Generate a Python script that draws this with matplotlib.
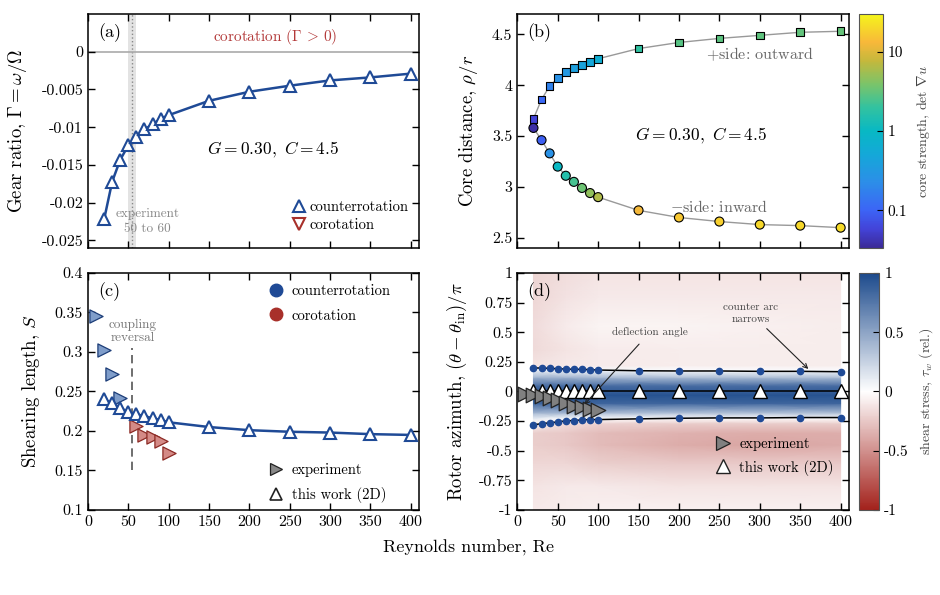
#Four panel figure: gear ratio, core distance, shearing length and rotor azimuth vs Reynolds number

import numpy as np
import matplotlib.pyplot as plt
from matplotlib.colors import LinearSegmentedColormap, LogNorm, Normalize
from matplotlib.lines import Line2D
from matplotlib.ticker import FuncFormatter

plt.rcParams['font.family'] = 'serif'
plt.rcParams['font.serif'] = ['cmr10', 'DejaVu Serif']
plt.rcParams['mathtext.fontset'] = 'cm'
plt.rcParams['axes.unicode_minus'] = False
plt.rcParams['axes.formatter.use_mathtext'] = True

# Data
re = [20, 30, 40, 50, 60, 70, 80, 90, 100, 150, 200, 250, 300, 350, 400]

# (a) gear ratio
gear = [-0.0222, -0.0172, -0.0143, -0.0124, -0.0113, -0.0103, -0.0096, -0.0089, -0.0084,
        -0.0065, -0.0053, -0.0045, -0.0038, -0.0034, -0.0029]

# (b) core distance and core strength
core_plus = [3.67, 3.86, 3.99, 4.07, 4.13, 4.17, 4.20, 4.23, 4.26, 4.36, 4.42, 4.46, 4.49, 4.52, 4.53]
core_minus = [3.58, 3.46, 3.33, 3.20, 3.11, 3.05, 2.99, 2.94, 2.90, 2.77, 2.70, 2.66, 2.63, 2.62, 2.60]
strength_plus = [0.057, 0.11, 0.18, 0.25, 0.31, 0.38, 0.42, 0.5, 0.62, 1.9, 2.8, 2.9, 3.0, 3.1, 3.2]
strength_minus = [0.038, 0.093, 0.25, 1.0, 1.6, 2.4, 3.4, 4.7, 6.4, 12.5, 16, 18, 20, 20, 21]

# (c) shearing length
shear = [0.240, 0.235, 0.229, 0.224, 0.221, 0.219, 0.216, 0.214, 0.211,
         0.205, 0.201, 0.199, 0.198, 0.196, 0.195]
exp_re_counter = [10, 20, 30, 40]
exp_shear_counter = [0.345, 0.302, 0.272, 0.242]
exp_re_co = [60, 70, 80, 90, 100]
exp_shear_co = [0.206, 0.195, 0.193, 0.187, 0.172]

# (d) rotor azimuth
arc_upper = [0.198, 0.198, 0.195, 0.192, 0.189, 0.187, 0.187, 0.184, 0.181,
             0.175, 0.173, 0.173, 0.170, 0.170, 0.167]
arc_lower = [-0.282, -0.271, -0.265, -0.257, -0.248, -0.245, -0.240, -0.237, -0.237,
             -0.231, -0.226, -0.223, -0.223, -0.220, -0.220]
azimuth_2d = [0, 0, 0, 0, 0, 0, 0, 0, 0, 0, 0, 0, 0, 0, 0]
exp_re = [10, 20, 30, 40, 50, 60, 70, 80, 90, 100]
exp_azimuth = [-0.02, -0.03, -0.04, -0.055, -0.07, -0.10, -0.119, -0.133, -0.147, -0.153]

# shear stress field behind panel (d), coarse grid
field_re = [20, 60, 100, 200, 300, 400]
field_theta = [-1.0, -0.8, -0.6, -0.45, -0.35, -0.27, -0.23, -0.18, -0.10, -0.03,
               0.05, 0.12, 0.18, 0.22, 0.35, 0.55, 0.8, 1.0]
field_tau = [
    [-0.10, -0.08, -0.07, -0.07, -0.07, -0.07],
    [-0.12, -0.10, -0.10, -0.12, -0.12, -0.12],
    [-0.18, -0.18, -0.22, -0.25, -0.25, -0.25],
    [-0.22, -0.25, -0.30, -0.37, -0.40, -0.38],
    [-0.22, -0.25, -0.30, -0.35, -0.37, -0.36],
    [-0.05, -0.15, -0.20, -0.22, -0.22, -0.22],
    [0.10, 0.02, 0.00, -0.02, -0.02, -0.02],
    [0.40, 0.40, 0.38, 0.35, 0.35, 0.35],
    [0.85, 0.85, 0.85, 0.85, 0.85, 0.85],
    [0.95, 0.95, 0.95, 0.95, 0.95, 0.95],
    [0.80, 0.80, 0.80, 0.80, 0.80, 0.80],
    [0.40, 0.40, 0.38, 0.35, 0.35, 0.35],
    [0.08, 0.06, 0.04, 0.02, 0.02, 0.02],
    [-0.12, -0.10, -0.09, -0.08, -0.08, -0.08],
    [-0.17, -0.12, -0.09, -0.08, -0.08, -0.08],
    [-0.16, -0.09, -0.05, -0.05, -0.07, -0.08],
    [-0.18, -0.13, -0.10, -0.10, -0.10, -0.10],
    [-0.19, -0.15, -0.12, -0.12, -0.12, -0.12],
]

xticks = [0, 50, 100, 150, 200, 250, 300, 350, 400]

# colours
blue = '#1f4a96'
red = '#a8302a'
parula = LinearSegmentedColormap.from_list('parula', [
    (0.00, '#3b2a98'), (0.08, '#4343d8'), (0.16, '#3c64f6'), (0.28, '#2c8ee8'),
    (0.40, '#14a8d8'), (0.50, '#08b8c4'), (0.60, '#32c2a0'), (0.70, '#7ac46a'),
    (0.80, '#c4b83c'), (0.88, '#f8b83a'), (0.95, '#f6dc28'), (1.00, '#f5f51a')])
shear_cmap = LinearSegmentedColormap.from_list('rwb', ['#a3221c', '#ffffff', '#1c4a8c'])

fmt = FuncFormatter(lambda v, p: '%g' % v)

fig = plt.figure(figsize=(9.4, 5.95), dpi=100)
ax_a = fig.add_axes([0.0936, 0.5832, 0.352, 0.3933])
ax_b = fig.add_axes([0.5503, 0.5832, 0.3526, 0.3933])
cax_b = fig.add_axes([0.9141, 0.5832, 0.0249, 0.3933])
ax_c = fig.add_axes([0.0936, 0.1429, 0.352, 0.3983])
ax_d = fig.add_axes([0.5503, 0.1429, 0.3526, 0.3983])
cax_d = fig.add_axes([0.9141, 0.1429, 0.0213, 0.3983])

for ax in [ax_a, ax_b, ax_c, ax_d]:
    ax.set_xlim(0, 410)
    ax.set_xticks(xticks)
    ax.tick_params(direction='in', top=True, right=True, length=5, width=1, labelsize=11.5)
    ax.yaxis.set_major_formatter(fmt)
    for s in ax.spines.values():
        s.set_linewidth(1.1)
for ax in [ax_a, ax_b]:
    ax.tick_params(labelbottom=False)

# ---- (a) gear ratio ----
ax_a.axvspan(50, 60, color='#e3e3e3', lw=0, zorder=0)
ax_a.axvline(55, color='#888888', ls=':', lw=1, zorder=1)
ax_a.axhline(0, color='#aaaaaa', lw=1.2, zorder=1)
ax_a.plot(re, gear, '-^', color=blue, lw=1.8, ms=8, mfc='white', mec=blue, mew=1.5, zorder=3)
ax_a.set_ylim(-0.026, 0.005)
ax_a.set_yticks([-0.025, -0.02, -0.015, -0.01, -0.005, 0])
ax_a.set_ylabel(r'Gear ratio, $\Gamma = \omega/\Omega$', fontsize=13.5, labelpad=9)
ax_a.text(0.03, 0.92, '(a)', transform=ax_a.transAxes, fontsize=13, va='center')
ax_a.text(232, 0.0019, r'corotation ($\Gamma\, >\, 0$)', color='#b33a3a', fontsize=11, ha='center', va='center')
ax_a.text(229, -0.013, r'$G = 0.30,\ C = 4.5$', fontsize=12.5, ha='center', va='center')
ax_a.text(74, -0.0225, 'experiment\n50 to 60', color='#888888', fontsize=9.5, ha='center', va='center',
          linespacing=1.3)
leg_a = ax_a.legend(handles=[
    Line2D([], [], ls='none', marker='^', ms=8, mfc='white', mec=blue, mew=1.5),
    Line2D([], [], ls='none', marker='v', ms=8, mfc='white', mec=red, mew=1.5)],
    labels=['counterrotation', 'corotation'], loc='center left', bbox_to_anchor=(0.615, 0.137),
    frameon=False, fontsize=10.5, handlelength=1, handletextpad=0.25, labelspacing=0.3,
    borderpad=0, borderaxespad=0)

# ---- (b) core distance ----
norm_b = LogNorm(vmin=1 / 30, vmax=30)
ax_b.plot(re[::-1] + re, core_plus[::-1] + core_minus, color='#999999', lw=1, zorder=1)
ax_b.scatter(re, core_plus, c=strength_plus, cmap=parula, norm=norm_b, marker='s', s=30,
             edgecolors='black', linewidths=0.8, zorder=3)
sc_b = ax_b.scatter(re, core_minus, c=strength_minus, cmap=parula, norm=norm_b, marker='o', s=42,
                    edgecolors='black', linewidths=0.8, zorder=3)
ax_b.set_ylim(2.4, 4.7)
ax_b.set_yticks([2.5, 3, 3.5, 4, 4.5])
ax_b.set_ylabel(r'Core distance, $\rho/r$', fontsize=13.5, labelpad=9)
ax_b.text(0.03, 0.92, '(b)', transform=ax_b.transAxes, fontsize=13, va='center')
ax_b.text(300, 4.30, r'$+$side: outward', color='#666666', fontsize=11.5, ha='center', va='center')
ax_b.text(250, 2.80, r'$-$side: inward', color='#666666', fontsize=11.5, ha='center', va='center')
ax_b.text(228, 3.5, r'$G = 0.30,\ C = 4.5$', fontsize=12.5, ha='center', va='center')

cb_b = fig.colorbar(sc_b, cax=cax_b)
cb_b.set_ticks([0.1, 1, 10])
cb_b.set_ticklabels(['0.1', '1', '10'])
cb_b.ax.minorticks_off()
cb_b.ax.tick_params(direction='in', length=4, labelsize=11)
cb_b.outline.set_edgecolor('#555555')
cb_b.set_label(r'core strength, det $\nabla u$', fontsize=10, color='#444444', labelpad=6)

# ---- (c) shearing length ----
ax_c.scatter(exp_re_counter, exp_shear_counter, marker='>', s=90, color='#7f9dca',
             edgecolors='#1c3d78', linewidths=0.9, zorder=2)
ax_c.scatter(exp_re_co, exp_shear_co, marker='>', s=90, color='#d48a86',
             edgecolors='#8c2a24', linewidths=0.9, zorder=2)
ax_c.plot(re, shear, '-^', color=blue, lw=1.8, ms=8, mfc='white', mec=blue, mew=1.5, zorder=3)
ax_c.vlines(55, 0.15, 0.305, colors='#555555', linestyles=(0, (5, 3)), lw=1.2, zorder=1)
ax_c.text(55, 0.326, 'coupling\nreversal', color='#777777', fontsize=9.5, ha='center', va='center',
          linespacing=1.1)
ax_c.set_ylim(0.1, 0.4)
ax_c.set_yticks([0.1, 0.15, 0.2, 0.25, 0.3, 0.35, 0.4])
ax_c.set_ylabel(r'Shearing length, $S$', fontsize=13.5, labelpad=9)
ax_c.text(0.03, 0.92, '(c)', transform=ax_c.transAxes, fontsize=13, va='center')
leg_c1 = ax_c.legend(handles=[
    Line2D([], [], ls='none', marker='o', ms=9, mfc=blue, mec=blue),
    Line2D([], [], ls='none', marker='o', ms=9, mfc=red, mec=red)],
    labels=['counterrotation', 'corotation'], loc='center left', bbox_to_anchor=(0.545, 0.872),
    frameon=False, fontsize=10.5, handlelength=1, handletextpad=0.6, labelspacing=0.75,
    borderpad=0, borderaxespad=0)
ax_c.add_artist(leg_c1)
ax_c.legend(handles=[
    Line2D([], [], ls='none', marker='>', ms=9, mfc='#888888', mec='#222222', mew=0.9),
    Line2D([], [], ls='none', marker='^', ms=9, mfc='white', mec='#222222', mew=1.2)],
    labels=['experiment', 'this work (2D)'], loc='center left', bbox_to_anchor=(0.545, 0.114),
    frameon=False, fontsize=10.5, handlelength=1, handletextpad=0.6, labelspacing=0.7,
    borderpad=0, borderaxespad=0)
ax_c.set_xticklabels([str(v) for v in xticks])

# ---- (d) rotor azimuth ----
X, Y = np.meshgrid(field_re, field_theta)
mesh = ax_d.pcolormesh(X, Y, np.array(field_tau), cmap=shear_cmap, norm=Normalize(-1, 1),
                       shading='gouraud', zorder=0, rasterized=True)
ax_d.plot(re, arc_upper, '-o', color='black', lw=1.1, ms=4.5, mfc=blue, mec=blue, zorder=2)
ax_d.plot(re, arc_lower, '-o', color='black', lw=1.1, ms=4.5, mfc=blue, mec=blue, zorder=2)
ax_d.plot(re, azimuth_2d, '-^', color='black', lw=1.1, ms=10, mfc='white', mec='black', mew=1.0, zorder=3)
ax_d.scatter(exp_re, exp_azimuth, marker='>', s=110, color='#808080', edgecolors='#222222',
             linewidths=0.9, zorder=4)
ax_d.set_ylim(-1, 1)
ax_d.set_yticks([-1, -0.75, -0.5, -0.25, 0, 0.25, 0.5, 0.75, 1])
ax_d.set_ylabel(r'Rotor azimuth, $(\theta - \theta_{\rm in})/\pi$', fontsize=13.5, labelpad=7)
ax_d.text(0.03, 0.92, '(d)', transform=ax_d.transAxes, fontsize=13, va='center')
ax_d.annotate('deflection angle', xy=(83, -0.11), xytext=(164, 0.50), fontsize=8, color='#444444',
              ha='center', va='center', zorder=5,
              arrowprops=dict(arrowstyle='->', color='#222222', lw=0.8, shrinkA=4, shrinkB=0))
ax_d.annotate('counter arc\nnarrows', xy=(360, 0.19), xytext=(289, 0.66), fontsize=8, color='#444444',
              ha='center', va='center', zorder=5, linespacing=1.3,
              arrowprops=dict(arrowstyle='->', color='#222222', lw=0.8, shrinkA=2, shrinkB=0))
ax_d.legend(handles=[
    Line2D([], [], ls='none', marker='>', ms=10, mfc='#808080', mec='#222222', mew=0.9),
    Line2D([], [], ls='none', marker='^', ms=10, mfc='white', mec='#222222', mew=1.0)],
    labels=['experiment', 'this work (2D)'], loc='center left', bbox_to_anchor=(0.6, 0.227),
    frameon=False, fontsize=10.5, handlelength=1, handletextpad=0.6, labelspacing=0.6,
    borderpad=0, borderaxespad=0)
ax_d.set_xticklabels([str(v) for v in xticks])

cb_d = fig.colorbar(mesh, cax=cax_d)
cb_d.set_ticks([-1, -0.5, 0, 0.5, 1])
cb_d.set_ticklabels(['-1', '-0.5', '0', '0.5', '1'])
cb_d.ax.tick_params(direction='in', length=4, labelsize=11)
cb_d.outline.set_edgecolor('#555555')
cb_d.set_label(r'shear stress, $\tau_w$ (rel.)', fontsize=10, color='#444444', labelpad=6)

fig.text(0.498, 0.079, 'Reynolds number, Re', fontsize=13, ha='center', va='center')

plt.savefig('out.png', dpi=100)
